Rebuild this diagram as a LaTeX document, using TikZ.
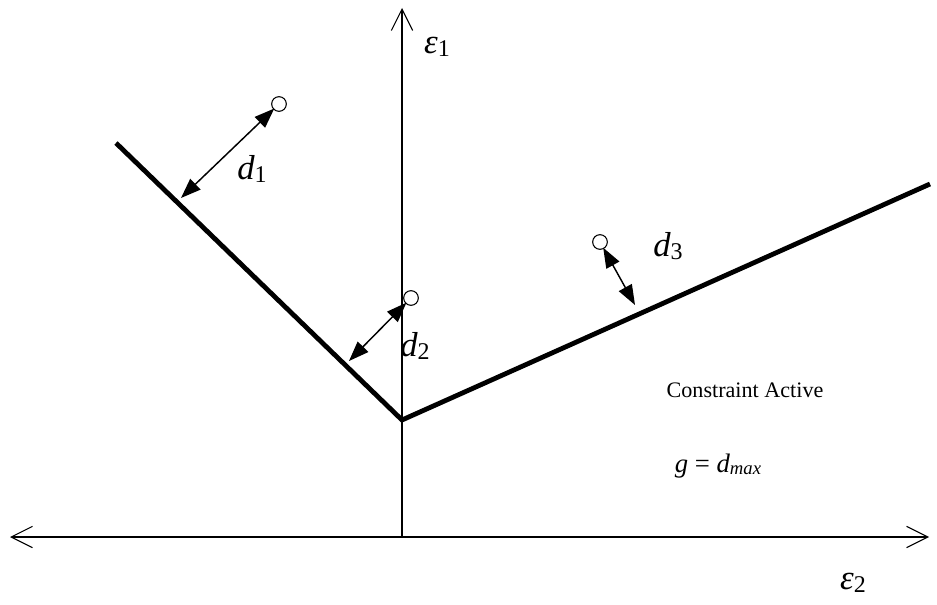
\documentclass[tikz,border=0pt]{standalone}
\usepackage{fontspec}
\setmainfont{Liberation Serif}
\usetikzlibrary{arrows.meta}
\newcommand{\sym}[2]{{\fontsize{26}{28}\selectfont\itshape #1}{\fontsize{18}{20}\selectfont\raisebox{-0.25ex}{#2}}}
\begin{document}
\begin{tikzpicture}[x=0.75pt,y=-0.75pt,
  axis/.style={line width=0.8pt},
  barb/.tip={Straight Barb[length=16pt,width=16pt,line width=0.8pt]},
  thick line/.style={line width=3.6pt},
  pt/.style={circle,draw,line width=0.8pt,minimum size=11pt,inner sep=0pt},
  darrow/.style={line width=1.1pt,{Triangle[length=15pt,width=11pt]}-{Triangle[length=15pt,width=11pt]},shorten <=-1pt},
  lab/.style={inner sep=0pt}]
\useasboundingbox (0,0) rectangle (937,605);
% axes
\coordinate (xl) at (10,537);
\coordinate (xr) at (929,537);
\coordinate (yb) at (402,537);
\coordinate (yt) at (402,8);
\draw[axis,-barb] (yb) -- (yt);
\draw[axis,barb-barb] (xl) -- (xr);
% constraint lines
\coordinate (la) at (116,143);
\coordinate (v) at (402,420);
\coordinate (rb) at (930,184);
\draw[thick line,line join=miter] (la) -- (v) -- (rb);
% points
\node[pt] (c1) at (279,104) {};
\node[pt] (c2) at (411,298) {};
\node[pt] (c3) at (600,242) {};
\coordinate (f1) at (181,198);
\coordinate (f2) at (349,361);
\coordinate (f3) at (635,305);
\draw[darrow] (c1) -- (f1);
\draw[darrow] (c2) -- (f2);
\draw[darrow] (c3) -- (f3);
% labels
\node[lab] (d1) at (252,169) {\sym{d}{1}};
\node[lab] (d2) at (415,346) {\sym{d}{2}};
\node[lab] (d3) at (668,246) {\sym{d}{3}};
\node[lab] (e1) at (437,47) {\sym{ε}{1}};
\node[lab] (e2) at (853,583) {\sym{ε}{2}};
\node[lab] (ca) at (745,390) {\fontsize{16.6}{19}\selectfont Constraint Active};
\node[lab] (g) at (718,466) {\fontsize{20}{22}\selectfont\itshape g {\upshape =} d{\fontsize{14}{16}\selectfont\raisebox{-0.3ex}{max}}};
\end{tikzpicture}
\end{document}
